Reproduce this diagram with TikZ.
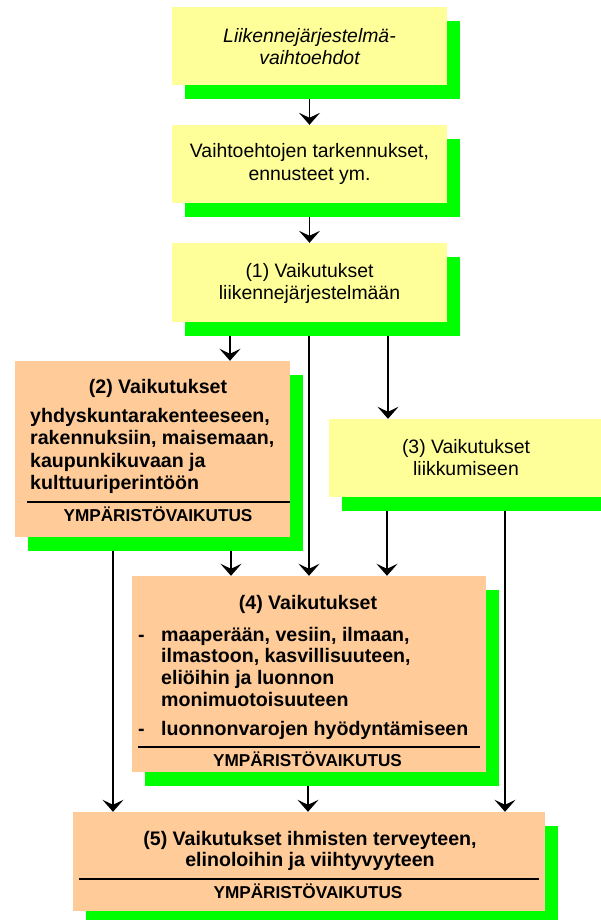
\documentclass[tikz,border=0pt]{standalone}
\usepackage{fontspec}
\setmainfont{Liberation Sans}
\usetikzlibrary{shadows,backgrounds,arrows.meta}
\definecolor{boxyellow}{HTML}{FFFF99}
\definecolor{boxorange}{HTML}{FFCC99}
\definecolor{shadowgreen}{HTML}{00FF00}
\begin{document}
\begin{tikzpicture}[x=1pt,y=-1pt,
  box/.style={rectangle, draw=none, inner sep=0pt,
    general shadow={fill=shadowgreen, shadow xshift=13pt, shadow yshift=-14pt}},
  ybox/.style={box, fill=boxyellow},
  obox/.style={box, fill=boxorange},
  rtxt/.style={anchor=base, inner sep=0pt, font=\fontsize{19.4}{22}\selectfont},
  itxt/.style={anchor=base, inner sep=0pt, font=\fontsize{19.4}{22}\selectfont\itshape},
  btxt/.style={anchor=base, inner sep=0pt, font=\fontsize{19.6}{22}\selectfont\bfseries},
  lbtxt/.style={anchor=base west, inner sep=0pt, font=\fontsize{19.6}{22}\selectfont\bfseries},
  ytxt/.style={anchor=base, inner sep=0pt, font=\fontsize{17.2}{20}\selectfont\bfseries},
  sepline/.style={line width=1.4pt},
  arr/.style={line width=1.6pt, -{Stealth[length=12pt,width=21pt,inset=5pt]}}
]
\useasboundingbox (0,0) rectangle (600,920);

% boxes
\node[ybox, minimum width=275pt, minimum height=78pt] (A) at (309.5,46) {};
\node[ybox, minimum width=275pt, minimum height=78pt] (B) at (309.5,164) {};
\node[ybox, minimum width=275pt, minimum height=79pt] (C) at (309.5,282.5) {};
\node[obox, minimum width=275pt, minimum height=176pt] (D) at (152.5,449) {};
\node[ybox, minimum width=274pt, minimum height=78pt] (E) at (466,458) {};
\node[obox, minimum width=354pt, minimum height=196pt] (F) at (309,674) {};
\node[obox, minimum width=472pt, minimum height=99pt] (G) at (309,861.5) {};

% texts
\node[itxt] (A1) at (309.5,43) {Liikennejärjestelmä-};
\node[itxt] (A2) at (309.5,65) {vaihtoehdot};

\node[rtxt] (B1) at (309.5,158) {Vaihtoehtojen tarkennukset,};
\node[rtxt] (B2) at (309.5,180) {ennusteet ym.};

\node[rtxt] (C1) at (309.5,277) {(1) Vaikutukset};
\node[rtxt] (C2) at (309.5,299) {liikennejärjestelmään};

\node[btxt] (D0) at (158,393) {(2) Vaikutukset};
\node[lbtxt] (D1) at (30,422) {yhdyskuntarakenteeseen,};
\node[lbtxt] (D2) at (30,444.5) {rakennuksiin, maisemaan,};
\node[lbtxt] (D3) at (30,467) {kaupunkikuvaan ja};
\node[lbtxt] (D4) at (30,489) {kulttuuriperintöön};
\node[ytxt] (D5) at (158,521) {YMPÄRISTÖVAIKUTUS};

\node[rtxt] (E1) at (466,453) {(3) Vaikutukset};
\node[rtxt] (E2) at (466,475) {liikkumiseen};

\node[btxt] (F0) at (308,609) {(4) Vaikutukset};
\node[lbtxt] (Fd1) at (138,641) {-};
\node[lbtxt] (F1) at (161,641) {maaperään, vesiin, ilmaan,};
\node[lbtxt] (F2) at (161,662.5) {ilmastoon, kasvillisuuteen,};
\node[lbtxt] (F3) at (161,684) {eliöihin ja luonnon};
\node[lbtxt] (F4) at (161,706) {monimuotoisuuteen};
\node[lbtxt] (Fd2) at (138,735) {-};
\node[lbtxt] (F5) at (161,735) {luonnonvarojen hyödyntämiseen};
\node[ytxt] (F6) at (307.5,766) {YMPÄRISTÖVAIKUTUS};

\node[btxt] (G1) at (310,845) {(5) Vaikutukset ihmisten terveyteen,};
\node[btxt] (G2) at (310,866) {elinoloihin ja viihtyvyyteen};
\node[ytxt] (G3) at (308,898) {YMPÄRISTÖVAIKUTUS};

% separator lines
\draw[sepline] (27,502) -- (D.east |- 0,502);
\draw[sepline] (138,747) -- (480,747);
\draw[sepline] (79,879) -- (539,879);

% connectors
\begin{scope}[on background layer]
\draw[arr] (A.south) -- (B.north);
\draw[arr] (B.south) -- (C.north);
\draw[arr] (C.south -| 230,0) -- (D.north -| 230,0);
\draw[arr] (C.south -| 309,0) -- (F.north -| 309,0);
\draw[arr] (C.south -| 388,0) -- (E.north -| 388,0);
\draw[arr] (D.south -| 231,0) -- (F.north -| 231,0);
\draw[arr] (D.south -| 113,0) -- (G.north -| 113,0);
\draw[arr] (E.south -| 387,0) -- (F.north -| 387,0);
\draw[arr] (E.south -| 505,0) -- (G.north -| 505,0);
\draw[arr] (F.south -| 308,0) -- (G.north -| 308,0);
\end{scope}
\end{tikzpicture}
\end{document}
